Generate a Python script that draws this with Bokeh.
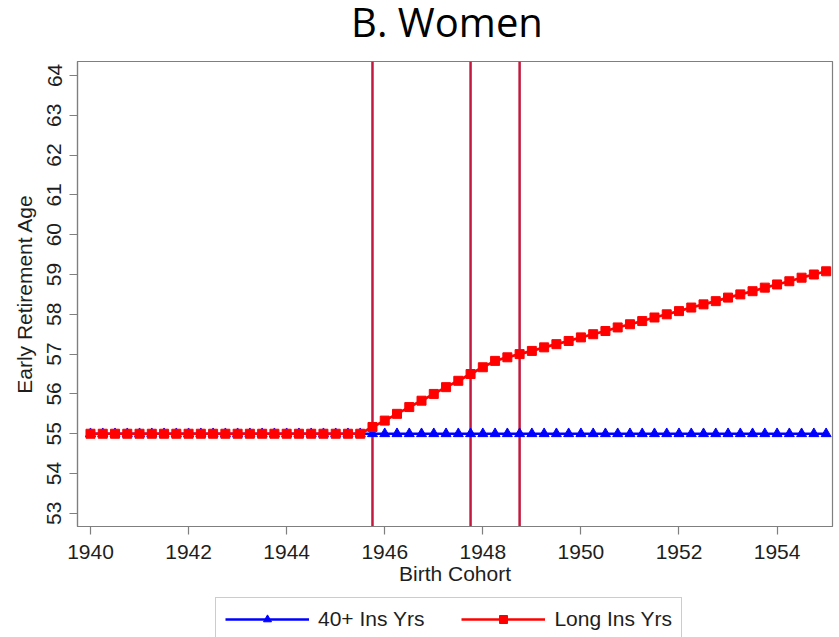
from bokeh.plotting import figure
from bokeh.layouts import column
from bokeh.models import Span, Legend, LegendItem, FixedTicker, Range1d, Label
from bokeh.embed import file_html
from bokeh.resources import INLINE

# Birth cohorts, quarterly
cohort = [
    1940.00, 1940.25, 1940.50, 1940.75, 1941.00, 1941.25, 1941.50, 1941.75,
    1942.00, 1942.25, 1942.50, 1942.75, 1943.00, 1943.25, 1943.50, 1943.75,
    1944.00, 1944.25, 1944.50, 1944.75, 1945.00, 1945.25, 1945.50, 1945.75,
    1946.00, 1946.25, 1946.50, 1946.75, 1947.00, 1947.25, 1947.50, 1947.75,
    1948.00, 1948.25, 1948.50, 1948.75, 1949.00, 1949.25, 1949.50, 1949.75,
    1950.00, 1950.25, 1950.50, 1950.75, 1951.00, 1951.25, 1951.50, 1951.75,
    1952.00, 1952.25, 1952.50, 1952.75, 1953.00, 1953.25, 1953.50, 1953.75,
    1954.00, 1954.25, 1954.50, 1954.75, 1955.00,
]

# Early retirement age, 40+ insurance years
ins40_age = [
    55.0, 55.0, 55.0, 55.0, 55.0, 55.0, 55.0, 55.0,
    55.0, 55.0, 55.0, 55.0, 55.0, 55.0, 55.0, 55.0,
    55.0, 55.0, 55.0, 55.0, 55.0, 55.0, 55.0, 55.0,
    55.0, 55.0, 55.0, 55.0, 55.0, 55.0, 55.0, 55.0,
    55.0, 55.0, 55.0, 55.0, 55.0, 55.0, 55.0, 55.0,
    55.0, 55.0, 55.0, 55.0, 55.0, 55.0, 55.0, 55.0,
    55.0, 55.0, 55.0, 55.0, 55.0, 55.0, 55.0, 55.0,
    55.0, 55.0, 55.0, 55.0, 55.0,
]

# Early retirement age, long insurance years
long_age = [
    55.0, 55.0, 55.0, 55.0, 55.0, 55.0, 55.0, 55.0,
    55.0, 55.0, 55.0, 55.0, 55.0, 55.0, 55.0, 55.0,
    55.0, 55.0, 55.0, 55.0, 55.0, 55.0, 55.0, 55.17,
    55.33, 55.5, 55.67, 55.83, 56.0, 56.17, 56.33, 56.5,
    56.67, 56.83, 56.92, 57.0, 57.08, 57.17, 57.25, 57.33,
    57.42, 57.5, 57.58, 57.67, 57.75, 57.83, 57.92, 58.0,
    58.08, 58.17, 58.25, 58.33, 58.42, 58.5, 58.58, 58.67,
    58.75, 58.83, 58.92, 59.0, 59.08,
]

reform_cohorts = [1945.75, 1947.75, 1948.75]
x_ticks = [1940, 1942, 1944, 1946, 1948, 1950, 1952, 1954]
y_ticks = [53, 54, 55, 56, 57, 58, 59, 60, 61, 62, 63, 64]
series_labels = ["40+ Ins Yrs", "Long Ins Yrs"]
chart_title = "B. Women"

LABEL_FONT = "Liberation Sans"
TEXT_COLOR = "#1e1e1e"
AXIS_COLOR = "#7f7f7f"
BLUE = "#0000ff"
RED = "#ff0000"


def strip(height):
    """A bare figure used as a band for text above or below the chart."""
    f = figure(
        width=839, height=height,
        output_backend="svg", toolbar_location=None,
        x_range=Range1d(0, 1), y_range=Range1d(0, 1),
        x_axis_location=None, y_axis_location=None,
        min_border=0, outline_line_color=None,
        background_fill_color="white", border_fill_color="white",
    )
    f.grid.visible = False
    return f


# Title band
head = strip(61)
head.add_layout(Label(
    x=369.5, y=40, x_units="screen", y_units="screen", text=chart_title,
    text_font="Open Sans", text_font_size="40px", text_color="black",
    text_align="center", text_baseline="alphabetic",
))

# Main chart
p = figure(
    width=839, height=536,
    output_backend="svg", toolbar_location=None,
    x_range=Range1d(1939.735, 1955.13),
    y_range=Range1d(52.67, 64.35),
    min_border_left=77, min_border_right=7,
    min_border_top=0, min_border_bottom=71,
    background_fill_color="white", border_fill_color="white",
)
p.grid.visible = False
p.outline_line_color = AXIS_COLOR
p.outline_line_width = 1.2

for ax in (p.xaxis[0], p.yaxis[0]):
    ax.axis_line_color = AXIS_COLOR
    ax.axis_line_width = 1.2
    ax.major_tick_line_color = AXIS_COLOR
    ax.major_tick_line_width = 1.2
    ax.major_tick_out = 8
    ax.major_tick_in = 0
    ax.minor_tick_line_color = None
    ax.major_label_text_font = LABEL_FONT
    ax.major_label_text_font_size = "21px"
    ax.major_label_text_color = TEXT_COLOR
    ax.axis_label_text_font = LABEL_FONT
    ax.axis_label_text_font_size = "21px"
    ax.axis_label_text_font_style = "normal"
    ax.axis_label_text_color = TEXT_COLOR

p.xaxis.ticker = FixedTicker(ticks=x_ticks)
p.xaxis.axis_label = "Birth Cohort"
p.xaxis.major_label_standoff = 10
p.xaxis.axis_label_standoff = 0

p.yaxis.ticker = FixedTicker(ticks=y_ticks)
p.yaxis.axis_label = "Early Retirement Age"
p.yaxis.major_label_orientation = "vertical"
p.yaxis.major_label_standoff = 8
p.yaxis.axis_label_standoff = 9

# Cohort thresholds of the reform steps
for c in reform_cohorts:
    p.add_layout(Span(location=c, dimension="height", line_color="#c21a3e",
                      line_width=2.5, level="underlay"))

p.line(cohort, ins40_age, line_color=BLUE, line_width=2.5)
p.scatter(cohort, ins40_age, marker="triangle", size=10,
          fill_color=BLUE, line_color=BLUE)
p.line(cohort, long_age, line_color=RED, line_width=2.7)
p.scatter(cohort, long_age, marker="square", size=9,
          fill_color=RED, line_color=RED)

# Legend band underneath the chart; its key glyphs sit off-range
foot = strip(40)
kb_line = foot.line([-5, -4], [-5, -5], line_color=BLUE, line_width=2.5)
kb_pts = foot.scatter([-5], [-5], marker="triangle", size=10,
                      fill_color=BLUE, line_color=BLUE)
kr_line = foot.line([-5, -4], [-5, -5], line_color=RED, line_width=2.7)
kr_pts = foot.scatter([-5], [-5], marker="square", size=9,
                      fill_color=RED, line_color=RED)

legend = Legend(
    items=[
        LegendItem(label=series_labels[0], renderers=[kb_line, kb_pts]),
        LegendItem(label=series_labels[1], renderers=[kr_line, kr_pts]),
    ],
    orientation="horizontal",
    location=(138, -4),
    glyph_width=84, glyph_height=20,
    label_standoff=9, spacing=37, padding=9, margin=0,
    border_line_color="#9a9a9a", border_line_width=1.2,
    label_text_font=LABEL_FONT, label_text_font_size="21px",
    label_text_color=TEXT_COLOR,
)
foot.add_layout(legend, "center")

layout = column(head, p, foot, spacing=0)
open("out.html", "w").write(file_html(layout, INLINE))
